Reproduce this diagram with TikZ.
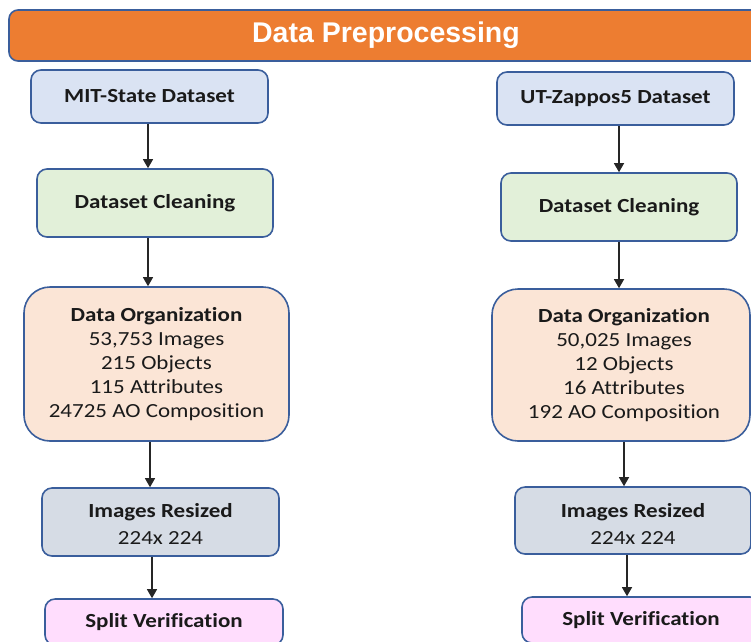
\documentclass[tikz,border=0pt]{standalone}
\usepackage{fontspec}
\setmainfont[FakeStretch=1.15, Ligatures=NoCommon]{Carlito}
\newfontfamily\titlefont{Liberation Sans}
\usetikzlibrary{arrows.meta}

\definecolor{edgeblue}{HTML}{3A5E9C}
\definecolor{barorange}{HTML}{ED7D31}
\definecolor{fillblue}{HTML}{DAE3F3}
\definecolor{fillgreen}{HTML}{E2F0D9}
\definecolor{fillpeach}{HTML}{FBE5D6}
\definecolor{fillgray}{HTML}{D6DCE5}
\definecolor{fillpink}{HTML}{FFDDFD}
\definecolor{textdark}{HTML}{1A1A1A}

\tikzset{
  box/.style={draw=edgeblue, line width=1.6pt, rounded corners=10pt,
    align=center, inner sep=0pt, text=textdark,
    font=\fontsize{20}{24}\selectfont},
  bigbox/.style={box, rounded corners=26pt},
  label text/.style={align=center, text=textdark, inner sep=0pt,
    font=\fontsize{20}{24}\selectfont},
  flow/.style={draw=black!85, line width=1.2pt,
    -{Triangle[width=10pt,length=9pt]}},
}

\begin{document}
\begin{tikzpicture}[x=1pt,y=-1pt]
\useasboundingbox (0,0) rectangle (751,641);
\clip (0,0) rectangle (751,641);

% header bar
\node[box, fill=barorange, rounded corners=9pt, minimum width=754pt,
  minimum height=51pt, text=white,
  font=\titlefont\bfseries\fontsize{28.5}{30}\selectfont]
  (head) at (386,35.5) {Data Preprocessing};

% left column
\node[box, fill=fillblue, minimum width=237pt, minimum height=53pt]
  (mit) at (149.5,96.5) {\bfseries MIT-State Dataset};
\node[box, fill=fillgreen, minimum width=236pt, minimum height=68pt]
  (cleanL) at (155,203) {\bfseries Dataset Cleaning};
\node[bigbox, fill=fillpeach, minimum width=265pt, minimum height=154pt]
  (orgL) at (156.5,364) {{\bfseries Data Organization}\\53,753 Images\\215 Objects\\115 Attributes\\24725 AO Composition};
\node[box, fill=fillgray, minimum width=237pt, minimum height=68pt]
  (resL) at (160.5,522) {};
\node[label text] (resLtxt) at ([yshift=-2pt]resL.center)
  {{\bfseries Images Resized}\\[3pt]224x 224};
\node[box, fill=fillpink, minimum width=238pt, minimum height=46pt]
  (splitL) at (164,622) {\bfseries Split Verification};

% right column
\node[box, fill=fillblue, minimum width=237pt, minimum height=53pt]
  (ut) at (615.5,98.5) {\bfseries UT-Zappos5 Dataset};
\node[box, fill=fillgreen, minimum width=236pt, minimum height=68pt]
  (cleanR) at (619,207) {\bfseries Dataset Cleaning};
\node[bigbox, fill=fillpeach, minimum width=258pt, minimum height=152pt]
  (orgR) at (621,365) {};
\node[label text] (orgRtxt) at ([xshift=3pt]orgR.center)
  {{\bfseries Data Organization}\\50,025 Images\\12 Objects\\16 Attributes\\192 AO Composition};
\node[box, fill=fillgray, minimum width=236pt, minimum height=67pt]
  (resR) at (633,520.5) {};
\node[label text] (resRtxt) at ([yshift=-3pt]resR.center)
  {{\bfseries Images Resized}\\[3pt]224x 224};
\node[box, fill=fillpink, minimum width=238pt, minimum height=46pt]
  (splitR) at (641,620) {\bfseries Split Verification};

% connectors, left
\draw[flow] (mit.south -| 148,0) -- (cleanL.north -| 148,0);
\draw[flow] (cleanL.south -| 148,0) -- (orgL.north -| 148,0);
\draw[flow] (orgL.south -| 150,0) -- (resL.north -| 150,0);
\draw[flow] (resL.south -| 152,0) -- (splitL.north -| 152,0);

% connectors, right
\draw[flow] (ut.south -| 619,0) -- (cleanR.north -| 619,0);
\draw[flow] (cleanR.south -| 619,0) -- (orgR.north -| 619,0);
\draw[flow] (orgR.south -| 624,0) -- (resR.north -| 624,0);
\draw[flow] (resR.south -| 627,0) -- (splitR.north -| 627,0);
\end{tikzpicture}
\end{document}
